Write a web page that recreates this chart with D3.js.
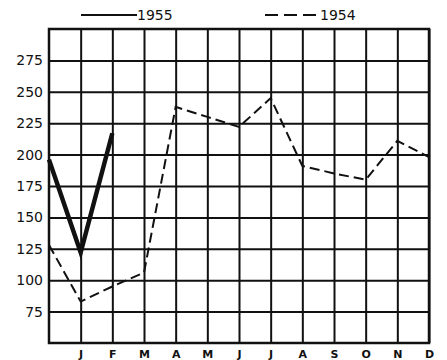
<!DOCTYPE html>
<html>
<head>
<meta charset="utf-8">
<script src="https://cdn.jsdelivr.net/npm/d3@7"></script>
<style>
  body { margin: 0; background: #fff; }
  svg text { font-family: "DejaVu Sans", sans-serif; fill: #111; }
</style>
</head>
<body>
<div id="chart"></div>
<script>
// index 0 = December of previous year (left edge, no label)
var months = ["", "J", "F", "M", "A", "M", "J", "J", "A", "S", "O", "N", "D"];
var yTicks = [75, 100, 125, 150, 175, 200, 225, 250, 275];
var sales1955 = [196, 122, 217];
var sales1954 = [128, 83, 95, 106, 238, 230, 222, 245, 191, 185, 180, 211, 198];

var W = 447, H = 360;
var plotL = 49, plotR = 429, plotT = 29, plotB = 343;

var svg = d3.select("#chart").append("svg").attr("width", W).attr("height", H);

var x = d3.scaleLinear().domain([0, 12]).range([plotL, plotR]);
var y = d3.scaleLinear().domain([50, 300]).range([plotB, plotT]);

// horizontal grid + labels
var yAxis = svg.append("g")
    .attr("transform", "translate(" + plotL + ",0)")
    .call(d3.axisLeft(y).tickValues(yTicks).tickSize(-(plotR - plotL)).tickPadding(6));
yAxis.select(".domain").remove();
yAxis.selectAll("line").attr("stroke", "#111").attr("stroke-width", 2);
yAxis.selectAll("text").attr("font-size", 14).attr("x", -6);

// vertical grid + month labels
var xAxis = svg.append("g")
    .attr("transform", "translate(0," + plotT + ")")
    .call(d3.axisBottom(x).tickValues(d3.range(1, 13)).tickSize(plotB - plotT).tickPadding(7)
      .tickFormat(function(i) { return months[i]; }));
xAxis.select(".domain").remove();
xAxis.selectAll("line").attr("stroke", "#111").attr("stroke-width", 2);
xAxis.selectAll("text").attr("font-size", 11).attr("font-weight", "bold");

// frame
svg.append("rect")
    .attr("x", plotL).attr("y", plotT)
    .attr("width", plotR - plotL).attr("height", plotB - plotT)
    .attr("fill", "none").attr("stroke", "#111").attr("stroke-width", 2.5);

var line = d3.line()
    .x(function(d, i) { return x(i); })
    .y(function(d) { return y(d); });

svg.append("path")
    .datum(sales1954)
    .attr("d", line)
    .attr("fill", "none")
    .attr("stroke", "#111")
    .attr("stroke-width", 2)
    .attr("stroke-dasharray", "10,5");

svg.append("path")
    .datum(sales1955)
    .attr("d", line)
    .attr("fill", "none")
    .attr("stroke", "#111")
    .attr("stroke-width", 4.5);

// legend
var legend = svg.append("g");
legend.append("line")
    .attr("x1", 81).attr("x2", 137).attr("y1", 15).attr("y2", 15)
    .attr("stroke", "#111").attr("stroke-width", 2);
legend.append("text").attr("x", 137).attr("y", 20).attr("font-size", 14).text("1955");
legend.append("line")
    .attr("x1", 265).attr("x2", 321).attr("y1", 15).attr("y2", 15)
    .attr("stroke", "#111").attr("stroke-width", 2)
    .attr("stroke-dasharray", "13,6");
legend.append("text").attr("x", 320).attr("y", 20).attr("font-size", 14).text("1954");
</script>
</body>
</html>
